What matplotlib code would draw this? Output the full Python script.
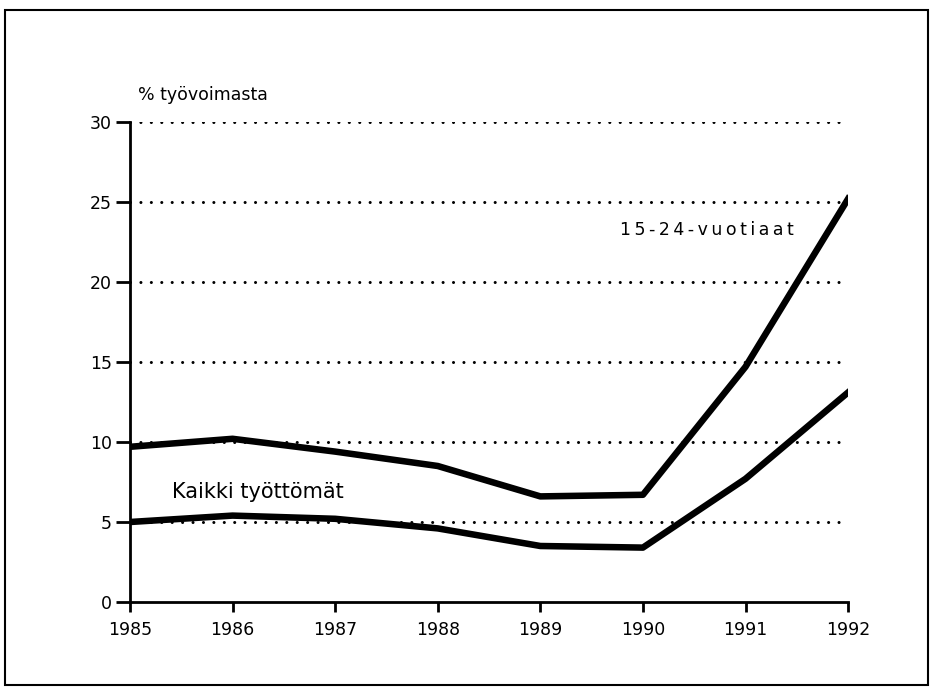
import matplotlib.pyplot as plt
from matplotlib.patches import Rectangle

years = [1985, 1986, 1987, 1988, 1989, 1990, 1991, 1992]
nuoret = [9.7, 10.2, 9.4, 8.5, 6.6, 6.7, 14.7, 25.2]   # 15-24-vuotiaat
kaikki = [5.0, 5.4, 5.2, 4.6, 3.5, 3.4, 7.7, 13.1]     # Kaikki työttömät
yticks = [0, 5, 10, 15, 20, 25, 30]

plt.rcParams['font.family'] = ['DejaVu Sans']

fig = plt.figure(figsize=(9.33, 6.88), dpi=100)
ax = fig.add_axes([0.1393, 0.125, 0.7697, 0.6977])

# dotted reference lines
for y in yticks[1:]:
    ax.axhline(y, color='black', linewidth=2.2, linestyle=(0, (0.01, 3.4)),
               dash_capstyle='round', zorder=1)

ax.plot(years, nuoret, color='black', linewidth=4.7, solid_joinstyle='round', zorder=3)
ax.plot(years, kaikki, color='black', linewidth=4.7, solid_joinstyle='round', zorder=3)

ax.set_xlim(1985, 1992)
ax.set_ylim(0, 30)
ax.set_xticks(years)
ax.set_yticks(yticks)
for s in ['top', 'right']:
    ax.spines[s].set_visible(False)
ax.spines['left'].set_linewidth(2)
ax.spines['bottom'].set_linewidth(2)
ax.tick_params(axis='y', direction='out', length=10, width=2, labelsize=12.5, pad=3)
ax.tick_params(axis='x', direction='out', length=7, width=2, labelsize=12.5, pad=7)

ax.text(1985.08, 31.1, '% työvoimasta', fontsize=12.5, va='bottom', ha='left')
ax.text(1985.41, 6.9, 'Kaikki työttömät', fontsize=15, va='center', ha='left')
ax.text(1989.78, 23.25, '\u2009'.join('15-24-vuotiaat'), fontsize=12.5,
        va='center', ha='left')

fig.patches.append(Rectangle((0.005, 0.004), 0.99, 0.982, transform=fig.transFigure,
                             fill=False, edgecolor='black', linewidth=1.5))

fig.savefig('out.png', dpi=100)
